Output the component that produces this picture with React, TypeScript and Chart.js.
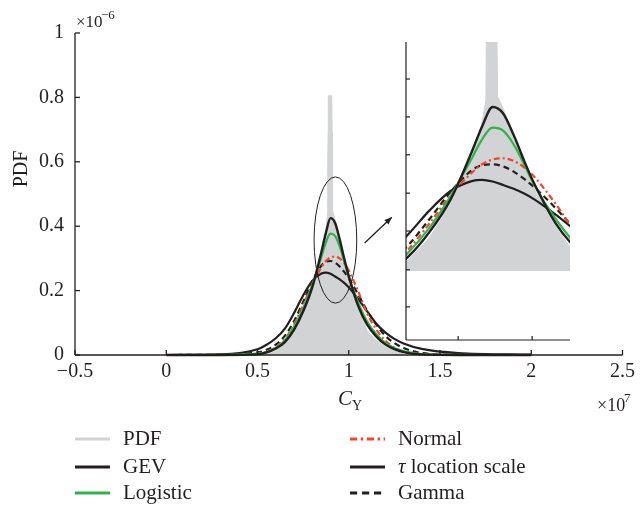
import React, { useEffect, useRef } from 'react';
import { Chart, registerables } from 'chart.js';

Chart.register(...registerables);

// x values in units of 1e7, y values in units of 1e-6
const fitX = [0, 0.3, 0.5, 0.55, 0.6, 0.65, 0.7, 0.75, 0.8, 0.85, 0.875, 0.9, 0.925, 0.95, 0.975, 1.0, 1.05, 1.1, 1.15, 1.2, 1.25, 1.3, 1.4, 1.6, 2.0];
const gevY = [0, 0, 0.002, 0.008, 0.02, 0.04, 0.078, 0.135, 0.21, 0.32, 0.38, 0.425, 0.41, 0.36, 0.3, 0.245, 0.155, 0.095, 0.058, 0.033, 0.018, 0.009, 0.002, 0, 0];
const logisticY = [0, 0.0005, 0.004, 0.009, 0.022, 0.046, 0.088, 0.145, 0.218, 0.305, 0.35, 0.377, 0.37, 0.338, 0.292, 0.242, 0.165, 0.105, 0.065, 0.038, 0.022, 0.012, 0.003, 0.0003, 0];
const normalY = [0, 0, 0.004, 0.01, 0.024, 0.05, 0.095, 0.155, 0.22, 0.272, 0.292, 0.303, 0.306, 0.3, 0.285, 0.262, 0.2, 0.13, 0.08, 0.045, 0.023, 0.01, 0.002, 0, 0];
const tlsY = [0, 0.002, 0.018, 0.032, 0.052, 0.082, 0.13, 0.185, 0.23, 0.253, 0.256, 0.252, 0.244, 0.235, 0.224, 0.21, 0.175, 0.136, 0.098, 0.07, 0.05, 0.036, 0.019, 0.006, 0.001];
const gammaY = [0, 0.001, 0.008, 0.016, 0.032, 0.06, 0.105, 0.165, 0.228, 0.278, 0.29, 0.292, 0.287, 0.275, 0.258, 0.238, 0.19, 0.138, 0.095, 0.06, 0.037, 0.022, 0.006, 0.0005, 0];
const pdfX = [0.3, 0.4, 0.5, 0.55, 0.6, 0.65, 0.7, 0.75, 0.8, 0.83, 0.86, 0.875, 0.884, 0.885, 0.887, 0.888, 0.907, 0.909, 0.91, 0.912, 0.93, 0.95, 0.975, 1.0, 1.05, 1.1, 1.15, 1.2, 1.25, 1.3];
const pdfY = [0.001, 0.002, 0.004, 0.01, 0.02, 0.036, 0.07, 0.122, 0.2, 0.26, 0.34, 0.39, 0.44, 0.6, 0.69, 0.805, 0.805, 0.69, 0.6, 0.45, 0.41, 0.35, 0.29, 0.232, 0.148, 0.076, 0.045, 0.026, 0.012, 0.003];

const xTickValues = [-0.5, 0, 0.5, 1, 1.5, 2, 2.5];
const yTickValues = [0, 0.2, 0.4, 0.6, 0.8, 1];

// inset (zoom of the peak) view window
const INSET_X = [0.694, 1.084];
const INSET_Y = [-0.116, 0.576];
const INSET_FILL_BASE = 0.044;
const INSET_X_TICKS = [0.818, 0.994];
const INSET_Y_TICKS = [-0.039, 0.047, 0.137, 0.225, 0.314, 0.402, 0.49];

// ellipse marking the zoomed region and arrow (data coords)
const ELLIPSE = { cx: 0.927, cy: 0.357, rx: 0.117, ry: 0.196 };
const ARROW = { x0: 1.087, y0: 0.348, x1: 1.236, y1: 0.428 };

const INK = '#231f20';
const GREEN = '#2fb34a';
const RED = '#f2462b';
const GRAY = '#d1d3d4';
const SERIF = '"Liberation Serif", "DejaVu Serif", serif';

const pts = (xs: number[], ys: number[]) => xs.map((x, i) => ({ x, y: ys[i] }));

const LEGEND_POS: Record<string, { col: number; row: number }> = {
  PDF: { col: 0, row: 0 },
  GEV: { col: 0, row: 1 },
  Logistic: { col: 0, row: 2 },
  Normal: { col: 1, row: 0 },
  'τ location scale': { col: 1, row: 1 },
  Gamma: { col: 1, row: 2 },
};

function makeDatasets(inset: boolean): any[] {
  const clip = inset ? 0 : 4;
  const common = { pointRadius: 0, cubicInterpolationMode: 'monotone', fill: false, clip };
  return [
    { ...common, label: 'GEV', data: pts(fitX, gevY), borderColor: INK, borderWidth: 2.4 },
    { ...common, label: 'Logistic', data: pts(fitX, logisticY), borderColor: GREEN, borderWidth: 2.2 },
    { ...common, label: 'Normal', data: pts(fitX, normalY), borderColor: RED, borderWidth: 2.2, borderDash: [6, 3, 2, 3] },
    { ...common, label: 'Gamma', data: pts(fitX, gammaY), borderColor: INK, borderWidth: 2.2, borderDash: [6, 4] },
    { ...common, label: 'τ location scale', data: pts(fitX, tlsY), borderColor: INK, borderWidth: 2.2 },
    {
      label: 'PDF', data: pts(pdfX, pdfY), pointRadius: 0, tension: 0, clip,
      borderColor: GRAY, borderWidth: 1, backgroundColor: GRAY,
      fill: inset ? { value: INSET_FILL_BASE } : 'origin',
    },
  ];
}

const fmt = (v: number) => {
  const r = Number(Number(v).toFixed(2));
  return r < 0 ? '\u2212' + Math.abs(r) : String(r);
};

function tick(ctx: CanvasRenderingContext2D, x0: number, y0: number, x1: number, y1: number) {
  ctx.beginPath();
  ctx.moveTo(x0, y0);
  ctx.lineTo(x1, y1);
  ctx.stroke();
}

const mainDecor = {
  id: 'mainDecor',
  afterDraw(chart: any) {
    const { ctx, chartArea: a, scales } = chart;
    const x = scales.x, y = scales.y;
    ctx.save();
    ctx.strokeStyle = INK;
    ctx.lineWidth = 1.3;
    // axes lines
    tick(ctx, a.left, a.top, a.left, a.bottom);
    tick(ctx, a.left, a.bottom, a.right, a.bottom);
    // inward ticks
    xTickValues.forEach((v) => {
      const px = x.getPixelForValue(v);
      tick(ctx, px, a.bottom, px, a.bottom - 5);
    });
    yTickValues.forEach((v) => {
      const py = y.getPixelForValue(v);
      tick(ctx, a.left, py, a.left + 5, py);
    });

    // ellipse
    ctx.lineWidth = 1;
    const cx = x.getPixelForValue(ELLIPSE.cx), cy = y.getPixelForValue(ELLIPSE.cy);
    const rx = x.getPixelForValue(ELLIPSE.cx + ELLIPSE.rx) - cx;
    const ry = cy - y.getPixelForValue(ELLIPSE.cy + ELLIPSE.ry);
    ctx.beginPath();
    ctx.ellipse(cx, cy, rx, ry, 0, 0, Math.PI * 2);
    ctx.stroke();

    // arrow
    const ax0 = x.getPixelForValue(ARROW.x0), ay0 = y.getPixelForValue(ARROW.y0);
    const ax1 = x.getPixelForValue(ARROW.x1), ay1 = y.getPixelForValue(ARROW.y1);
    ctx.lineWidth = 1.3;
    tick(ctx, ax0, ay0, ax1, ay1);
    const ang = Math.atan2(ay1 - ay0, ax1 - ax0);
    ctx.fillStyle = INK;
    ctx.beginPath();
    ctx.moveTo(ax1, ay1);
    ctx.lineTo(ax1 - 8 * Math.cos(ang - 0.4), ay1 - 8 * Math.sin(ang - 0.4));
    ctx.lineTo(ax1 - 8 * Math.cos(ang + 0.4), ay1 - 8 * Math.sin(ang + 0.4));
    ctx.closePath();
    ctx.fill();

    // texts
    ctx.fillStyle = INK;
    ctx.textBaseline = 'alphabetic';
    ctx.textAlign = 'left';
    // x10^-6
    ctx.font = `17px ${SERIF}`;
    ctx.fillText('\u00d710', 76, 27);
    ctx.font = `13px ${SERIF}`;
    ctx.fillText('\u22126', 101, 19);
    // x10^7
    ctx.font = `18px ${SERIF}`;
    ctx.fillText('\u00d710', 597, 411);
    ctx.font = `13px ${SERIF}`;
    ctx.fillText('7', 624, 402);
    // x title C_Y
    ctx.font = `italic 21px ${SERIF}`;
    ctx.fillText('C', 338, 405);
    ctx.font = `14px ${SERIF}`;
    ctx.fillText('Y', 352, 410);
    // y title
    ctx.save();
    ctx.translate(27, 169);
    ctx.rotate(-Math.PI / 2);
    ctx.textAlign = 'center';
    ctx.font = `20px ${SERIF}`;
    ctx.fillText('PDF', 0, 0);
    ctx.restore();

    // legend
    const colLine = [75, 350];
    const colText = [123, 398];
    const rowY = [439, 467, 493];
    chart.data.datasets.forEach((ds: any) => {
      const pos = LEGEND_POS[ds.label];
      if (!pos) return;
      const ly = rowY[pos.row];
      ctx.save();
      ctx.strokeStyle = ds.borderColor;
      ctx.lineWidth = 3;
      ctx.setLineDash(ds.borderDash ? ds.borderDash.map((d: number) => d * 1.2) : []);
      tick(ctx, colLine[pos.col], ly, colLine[pos.col] + 35, ly);
      ctx.restore();
      ctx.textBaseline = 'middle';
      let tx = colText[pos.col];
      let label = ds.label as string;
      if (label.startsWith('τ')) {
        ctx.font = `italic 21px ${SERIF}`;
        ctx.fillText('τ', tx, ly);
        tx += ctx.measureText('τ ').width;
        label = label.slice(2);
      }
      ctx.font = `21px ${SERIF}`;
      ctx.fillText(label, tx, ly);
    });
    ctx.restore();
  },
};

const insetDecor = {
  id: 'insetDecor',
  afterDraw(chart: any) {
    const { ctx, chartArea: a, scales } = chart;
    ctx.save();
    ctx.strokeStyle = INK;
    ctx.lineWidth = 1.2;
    tick(ctx, a.left, a.top, a.left, a.bottom);
    tick(ctx, a.left, a.bottom, a.right, a.bottom);
    INSET_X_TICKS.forEach((v) => {
      const px = scales.x.getPixelForValue(v);
      tick(ctx, px, a.bottom, px, a.bottom - 4);
    });
    INSET_Y_TICKS.forEach((v) => {
      const py = scales.y.getPixelForValue(v);
      tick(ctx, a.left, py, a.left + 4, py);
    });
    ctx.restore();
  },
};

export default function App() {
  const mainRef = useRef<HTMLCanvasElement>(null);
  const insetRef = useRef<HTMLCanvasElement>(null);

  useEffect(() => {
    const tickFont = { family: SERIF, size: 20 };
    const main = new Chart(mainRef.current as HTMLCanvasElement, {
      type: 'line',
      data: { datasets: makeDatasets(false) },
      options: {
        animation: false,
        responsive: false,
        devicePixelRatio: 1,
        layout: { padding: { left: 0, top: 33, right: 15, bottom: 0 } },
        plugins: { legend: { display: false }, tooltip: { enabled: false } },
        scales: {
          x: {
            type: 'linear',
            min: -0.5,
            max: 2.5,
            grid: { display: false, drawTicks: false },
            border: { display: false },
            afterBuildTicks: (s: any) => { s.ticks = xTickValues.map((v) => ({ value: v })); },
            ticks: { padding: 5, color: INK, font: tickFont, callback: (v: any) => fmt(v), maxRotation: 0, autoSkip: false },
            afterFit: (s: any) => { s.height = 152; },
          },
          y: {
            type: 'linear',
            min: 0,
            max: 1,
            grid: { display: false, drawTicks: false },
            border: { display: false },
            afterBuildTicks: (s: any) => { s.ticks = yTickValues.map((v) => ({ value: v })); },
            ticks: { padding: 11, color: INK, font: tickFont, callback: (v: any) => fmt(v), autoSkip: false },
            afterFit: (s: any) => { s.width = 75; },
          },
        },
      } as any,
      plugins: [mainDecor],
    });

    const inset = new Chart(insetRef.current as HTMLCanvasElement, {
      type: 'line',
      data: { datasets: makeDatasets(true) },
      options: {
        animation: false,
        responsive: false,
        devicePixelRatio: 1,
        layout: { padding: { left: 26, top: 12, right: 30, bottom: 20 } },
        plugins: { legend: { display: false }, tooltip: { enabled: false } },
        scales: {
          x: { type: 'linear', display: false, min: INSET_X[0], max: INSET_X[1] },
          y: { type: 'linear', display: false, min: INSET_Y[0], max: INSET_Y[1] },
        },
      } as any,
      plugins: [insetDecor],
    });

    return () => {
      main.destroy();
      inset.destroy();
    };
  }, []);

  return (
    <div style={{ position: 'absolute', left: 0, top: 0, width: 640, height: 507, background: '#fff' }}>
      <canvas ref={mainRef} width={640} height={507} style={{ position: 'absolute', left: 0, top: 0, width: 640, height: 507 }} />
      <canvas ref={insetRef} width={220} height={330} style={{ position: 'absolute', left: 380, top: 30, width: 220, height: 330 }} />
    </div>
  );
}
